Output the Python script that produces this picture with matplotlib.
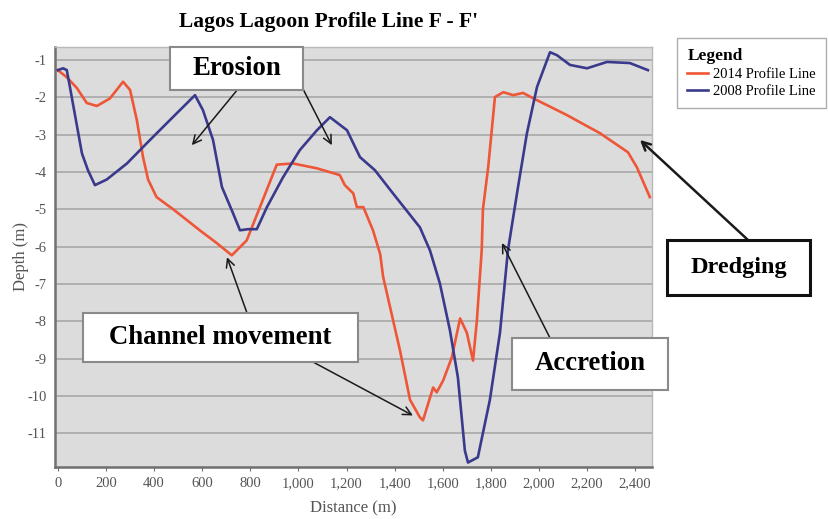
import matplotlib
matplotlib.use("Agg")
import matplotlib.pyplot as plt
from matplotlib.patches import Rectangle
from matplotlib.ticker import FuncFormatter

plt.rcParams["axes.unicode_minus"] = False

# profile 2014 (distance m, depth m)
dist_2014 = [0, 37, 79, 120, 162, 216, 271, 300, 328, 354, 375, 410, 480, 590, 660, 723,
             785, 840, 910, 978, 1077, 1172, 1193, 1228, 1243, 1270, 1310, 1340, 1352,
             1422, 1464, 1505, 1518, 1560, 1575, 1602, 1638, 1672, 1700, 1726, 1742,
             1762, 1767, 1789, 1817, 1852, 1893, 1934, 1975, 2115, 2254, 2370, 2407, 2461]
depth_2014 = [-1.27, -1.46, -1.75, -2.15, -2.23, -2.03, -1.58, -1.8, -2.6, -3.6, -4.2, -4.67,
              -5.0, -5.56, -5.9, -6.23, -5.83, -4.94, -3.8, -3.77, -3.9, -4.08, -4.35, -4.57,
              -4.94, -4.94, -5.56, -6.2, -6.8, -8.77, -10.1, -10.57, -10.65, -9.77, -9.9,
              -9.58, -8.96, -7.92, -8.3, -9.05, -7.97, -6.1, -5.0, -3.87, -1.99, -1.86,
              -1.94, -1.88, -2.02, -2.47, -2.96, -3.47, -3.87, -4.67]

# profile 2008
dist_2008 = [0, 22, 37, 50, 100, 125, 154, 203, 287, 383, 495, 570, 603, 645, 682, 728, 757,
             790, 827, 869, 936, 1006, 1077, 1131, 1202, 1256, 1318, 1393, 1505, 1547, 1588,
             1630, 1663, 1692, 1705, 1746, 1796, 1838, 1871, 1913, 1950, 1992, 2046, 2075,
             2129, 2200, 2283, 2378, 2453]
depth_2008 = [-1.27, -1.22, -1.27, -1.72, -3.5, -3.95, -4.35, -4.2, -3.77, -3.14, -2.42,
              -1.94, -2.34, -3.14, -4.4, -5.1, -5.56, -5.53, -5.53, -4.94, -4.14, -3.41,
              -2.88, -2.53, -2.88, -3.6, -3.95, -4.57, -5.48, -6.1, -6.98, -8.24, -9.5,
              -11.46, -11.78, -11.64, -10.1, -8.3, -6.1, -4.4, -2.96, -1.72, -0.79, -0.87,
              -1.13, -1.22, -1.05, -1.08, -1.27]

x_ticks = list(range(0, 2401, 200))
y_ticks = list(range(-11, 0))

serif = "Liberation Serif"
W, H = 829, 519

fig = plt.figure(figsize=(W / 100, H / 100), dpi=100)
ax = fig.add_axes([55 / W, 1 - 467 / H, (652 - 55) / W, (467 - 47) / H])
ax.set_facecolor("#dcdcdc")

ax.plot(dist_2014, depth_2014, color="#ef5638", lw=1.9, label="2014 Profile Line", zorder=3)
ax.plot(dist_2008, depth_2008, color="#3a3a8c", lw=1.9, label="2008 Profile Line", zorder=3)

ax.set_xlim(-12, 2470)
ax.set_ylim(-11.9, -0.65)
ax.set_xticks(x_ticks)
ax.set_yticks(y_ticks)
ax.xaxis.set_major_formatter(FuncFormatter(lambda v, p: f"{int(v):,}"))
ax.yaxis.grid(True, color="#a8a8a8", lw=1.2)
ax.set_axisbelow(True)

for s in ["left", "bottom"]:
    ax.spines[s].set_color("#707070")
    ax.spines[s].set_linewidth(1.8)
for s in ["top", "right"]:
    ax.spines[s].set_color("#b8b8b8")
    ax.spines[s].set_linewidth(1.0)

ax.tick_params(axis="x", length=3, color="#707070", labelsize=10.5, labelcolor="#555555", pad=4)
ax.tick_params(axis="y", length=0, labelsize=10.5, labelcolor="#555555", pad=6)
for lab in ax.get_xticklabels() + ax.get_yticklabels():
    lab.set_fontfamily(serif)

ax.set_xlabel("Distance (m)", fontfamily=serif, fontsize=12, color="#555555", labelpad=8)
ax.set_ylabel("Depth (m)", fontfamily=serif, fontsize=12, color="#555555", labelpad=-1)
fig.text(329 / W, 1 - 22 / H, "Lagos Lagoon Profile Line F - F'", ha="center", va="center",
         fontfamily=serif, fontweight="bold", fontsize=15.5)

leg = ax.legend(loc="upper left", bbox_to_anchor=(677 / W, 1 - 38 / H),
                bbox_transform=fig.transFigure, title="Legend", alignment="left",
                prop={"family": serif, "size": 10.5}, frameon=True, fancybox=False,
                edgecolor="#999999", handlelength=1.4, handletextpad=0.4,
                borderaxespad=0, borderpad=0.7, labelspacing=0.25)
leg.get_title().set_fontfamily(serif)
leg.get_title().set_fontweight("bold")
leg.get_title().set_fontsize(12.5)


def fig_xy(px, py):
    return px / W, 1 - py / H


def label_box(x0, y0, x1, y1, text, edge="#8a8a8a", lw=1.5, size=19.3):
    fig.add_artist(Rectangle(fig_xy(x0, y1), (x1 - x0) / W, (y1 - y0) / H,
                             transform=fig.transFigure, facecolor="white",
                             edgecolor=edge, lw=lw, zorder=5))
    fig.text(*fig_xy((x0 + x1) / 2, (y0 + y1) / 2), text, ha="center", va="center",
             fontfamily=serif, fontweight="bold", fontsize=size, zorder=6)


def pointer(start, target, lw=1.1):
    ax.annotate("", xy=target, xycoords="data", xytext=fig_xy(*start),
                textcoords="figure fraction",
                arrowprops=dict(arrowstyle="->,head_length=0.6,head_width=0.3",
                                color="#1a1a1a", lw=lw, shrinkA=0, shrinkB=0),
                zorder=4, annotation_clip=False)


label_box(170, 47, 303, 90, "Erosion")
pointer((238, 89), (557, -3.28))
pointer((303, 89), (1139, -3.28))

label_box(83, 313, 358, 362, "Channel movement")
pointer((247, 313), (703, -6.28))
pointer((313, 362), (1476, -10.52))

label_box(512, 338, 668, 390, "Accretion")
pointer((550, 338), (1846, -5.9))

label_box(667, 240, 810, 295, "Dredging", edge="#111111", lw=2.2, size=17.5)
pointer((748, 240), (2420, -3.14), lw=1.8)

fig.savefig("out.png", dpi=100)
